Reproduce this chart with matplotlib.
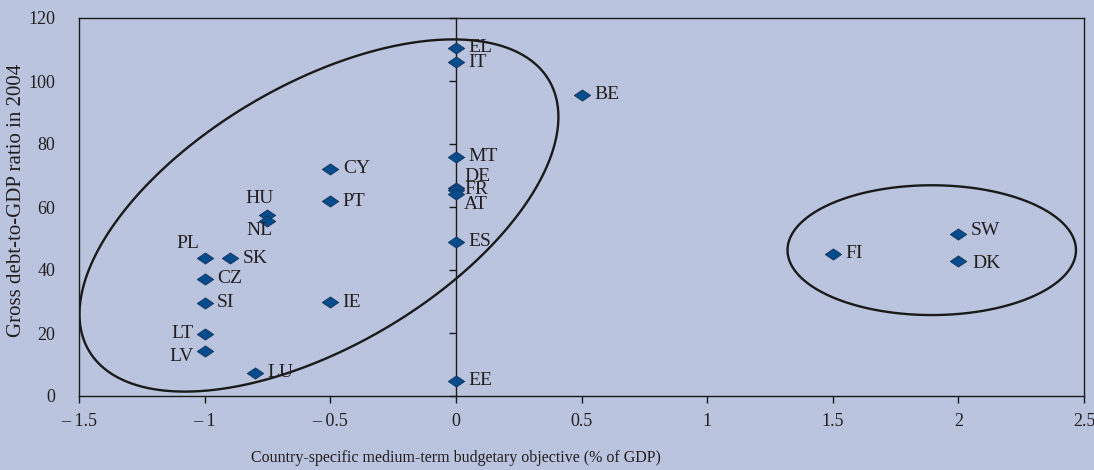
import numpy as np
import matplotlib
matplotlib.use("Agg")
import matplotlib.pyplot as plt
from matplotlib.path import Path
from matplotlib.patches import Polygon

# ---------------- data ----------------
countries = ["EL", "IT", "BE", "MT", "DE", "FR", "AT", "ES", "EE", "CY", "PT",
             "HU", "NL", "PL", "SK", "CZ", "SI", "IE", "LT", "LV", "LU",
             "FI", "SW", "DK"]
mto = [0.0, 0.0, 0.5, 0.0, 0.0, 0.0, 0.0, 0.0, 0.0, -0.5, -0.5,
       -0.75, -0.75, -1.0, -0.9, -1.0, -1.0, -0.5, -1.0, -1.0, -0.8,
       1.5, 2.0, 2.0]
debt = [110.5, 106.0, 95.6, 76.0, 66.0, 65.4, 64.2, 49.0, 4.9, 72.1, 61.9,
        57.4, 55.7, 43.7, 43.7, 37.3, 29.6, 29.8, 19.7, 14.4, 7.4,
        45.1, 51.3, 42.8]
xticks = [-1.5, -1.0, -0.5, 0.0, 0.5, 1.0, 1.5, 2.0, 2.5]
xticklabels = ["\u2013 1.5", "\u2013 1", "\u2013 0.5", "0", "0.5", "1", "1.5", "2", "2.5"]
yticks = [0, 20, 40, 60, 80, 100, 120]

# label offsets (points) and alignment for each country label
label_pos = {
    "HU": (-6, 12, "center"), "NL": (-6, -7, "center"), "PL": (-12, 11, "center"),
    "LT": (-8, 0, "right"), "LV": (-8, -4, "right"),
    "DE": (6, 8, "left"), "FR": (6, 0, "left"), "AT": (6, -8, "left"),
    "SW": (9, 3, "left"), "DK": (10, -2, "left"),
}
default_pos = (9, 0, "left")

# ellipse annotations (data units)
ell1 = dict(cx=-0.545, cy=57.3, rx=0.953, ry=55.9, phi=2.165)
ell2 = dict(cx=1.894, cy=46.3, rx=0.574, ry=20.6, phi=np.pi / 2)

# ---------------- style ----------------
BG = "#BAC4DE"
TXT = "#231F20"
MFACE = "#004C8C"
MEDGE = "#1E3356"
LINE = "#1a1a1a"
plt.rcParams["font.family"] = ["Liberation Serif", "DejaVu Serif"]

fig = plt.figure(figsize=(10.94, 4.70), dpi=100, facecolor=BG)
ax = fig.add_axes([79 / 1094, 1 - 396 / 470, 1005 / 1094, 378 / 470])
ax.set_facecolor(BG)
ax.set_xlim(-1.5, 2.5)
ax.set_ylim(0, 120)

for s in ax.spines.values():
    s.set_color(LINE)
    s.set_linewidth(1.0)

ax.set_xticks(xticks)
ax.set_xticklabels(xticklabels)
ax.tick_params(axis="x", direction="out", length=5, width=1, pad=7,
               colors=LINE, labelcolor=TXT, labelsize=13)
ax.set_yticks(yticks)
ax.tick_params(axis="y", length=0, pad=17, labelcolor=TXT, labelsize=13)

# vertical axis crossing at x = 0
sec = ax.secondary_yaxis(0.375)
sec.set_yticks(yticks)
sec.tick_params(axis="y", direction="out", length=5, width=1, labelleft=False,
                labelright=False, colors=LINE)
sec.spines["left"].set_color(LINE)
sec.spines["left"].set_linewidth(1.0)

# ellipses
t = np.linspace(0, 2 * np.pi, 400, endpoint=False)
for e in (ell1, ell2):
    ex = e["cx"] + e["rx"] * np.cos(t)
    ey = e["cy"] - e["ry"] * np.cos(t + e["phi"])
    ax.add_patch(Polygon(np.column_stack([ex, ey]), closed=True, fill=False,
                         edgecolor=LINE, linewidth=1.7, zorder=3))

# diamond marker (wider than tall)
diamond = Path([(-1, 0), (0, 0.68), (1, 0), (0, -0.68), (-1, 0)],
               [Path.MOVETO, Path.LINETO, Path.LINETO, Path.LINETO, Path.CLOSEPOLY])
ax.scatter(mto, debt, marker=diamond, s=140, facecolor=MFACE, edgecolor=MEDGE,
           linewidth=0.6, zorder=5, clip_on=False)

for c, x, y in zip(countries, mto, debt):
    dx, dy, ha = label_pos.get(c, default_pos)
    ax.annotate(c, (x, y), xytext=(dx, dy), textcoords="offset points",
                ha=ha, va="center", fontsize=14, color=TXT, zorder=6)

ax.set_xlabel("Country-specific medium-term budgetary objective (% of GDP)",
              fontsize=11.5, color=TXT)
ax.xaxis.set_label_coords(0.375, -0.164)
ax.xaxis.label.set_va("center")
ax.set_ylabel("Gross debt-to-GDP ratio in 2004", fontsize=15, color=TXT)
ax.yaxis.set_label_coords(-0.062, 0.518)
ax.yaxis.label.set_va("center")

fig.savefig("out.png", dpi=100, facecolor=BG)
